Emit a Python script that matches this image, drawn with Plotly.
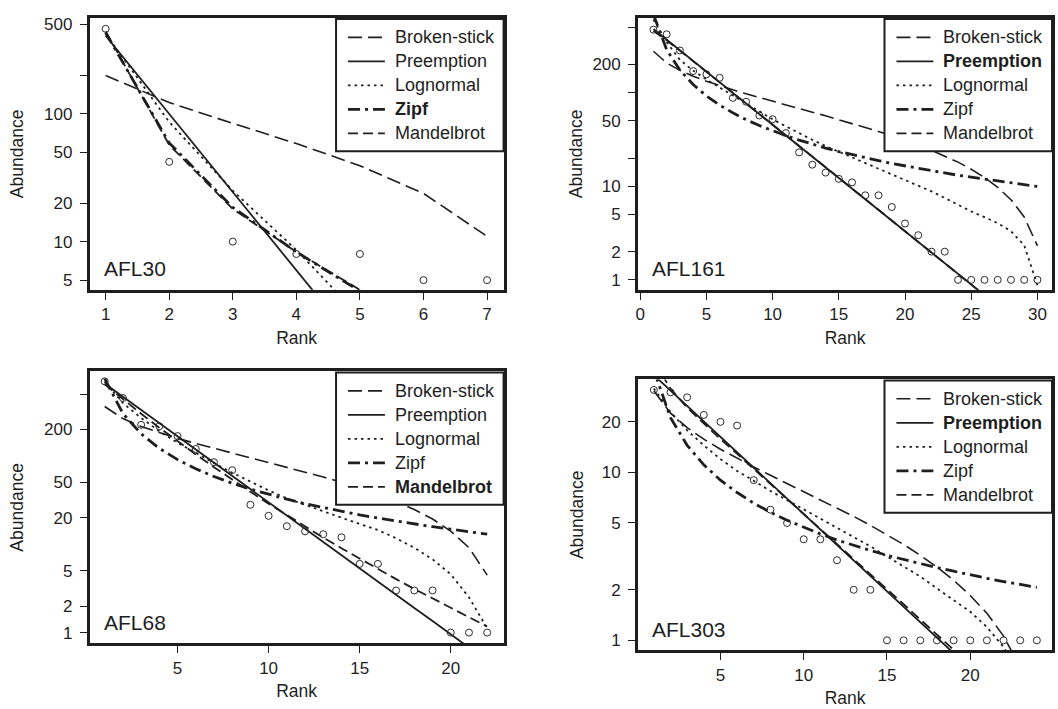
import plotly.graph_objects as go

# ---------------- data ----------------
models = ["Broken-stick", "Preemption", "Lognormal", "Zipf", "Mandelbrot"]

p1_rank = [1, 2, 3, 4, 5, 6, 7]
p1_obs = [460, 42, 10, 8, 8, 5, 5]
p1_broken = [199, 122, 84, 58.4, 39.2, 23.8, 11.0]
p1_preempt = [406, 99.5, 24.4, 5.97, 1.46, 0.36, 0.088]
p1_lognormal = [420, 86, 25, 8.6, 2.6, 0.8, 0.2]
p1_zipf = [430, 59, 18.5, 8.3, 4.1, 2.7, 1.75]
p1_mandel = [440, 57, 18, 8.3, 4.2, 2.8, 1.8]

p2_rank = list(range(1, 31))
p2_obs = [471, 420, 282, 170, 157, 144, 88, 80, 57, 52, 37, 23, 17, 14, 12,
          11, 8, 8, 6, 4, 3, 2, 2, 1, 1, 1, 1, 1, 1, 1]
p2_broken = [276.9, 207.6, 172.9, 149.8, 132.5, 118.6, 107.1, 97.2, 88.5, 80.8,
             73.9, 67.6, 61.8, 56.5, 51.5, 46.9, 42.6, 38.5, 34.6, 31.0,
             27.5, 24.2, 21.1, 18.1, 15.2, 12.4, 9.74, 7.18, 4.70, 2.31]
p2_preempt = [478.6, 368.4, 283.5, 218.2, 168.0, 129.3, 99.5, 76.6, 58.9, 45.4,
              34.9, 26.9, 20.7, 15.9, 12.25, 9.43, 7.26, 5.59, 4.30, 3.31,
              2.55, 1.96, 1.51, 1.16, 0.894, 0.688, 0.529, 0.407, 0.314, 0.241]
p2_lognormal = [602.6, 346.7, 223.9, 171.8, 138.0, 113.5, 92.3, 75.9, 62.4, 51.9,
                43.7, 36.7, 31.3, 26.9, 23.4, 20.4, 17.8, 15.5, 13.5, 11.7,
                10.2, 8.81, 7.50, 6.31, 5.37, 4.68, 4.03, 3.31, 2.34, 0.87]
p2_zipf = [682, 288, 174, 122, 92.3, 73.6, 60.8, 51.4, 44.5, 39.0,
           34.7, 31.1, 28.1, 25.6, 23.5, 21.7, 20.2, 18.8, 17.5, 16.5,
           15.5, 14.6, 13.8, 13.1, 12.5, 11.9, 11.4, 10.8, 10.4, 9.95]
p2_mandel = [455, 362, 281, 217, 167, 129, 99, 76.5, 59, 45.5,
             35, 27, 20.8, 16, 12.3, 9.5, 7.3, 5.6, 4.3, 3.3,
             2.55, 1.95, 1.5, 1.15, 0.89, 0.68, 0.52, 0.40, 0.31, 0.24]

p3_rank = list(range(1, 23))
p3_obs = [700, 453, 225, 217, 168, 120, 85, 69, 28, 21, 16, 14, 13, 12, 6, 6,
          3, 3, 3, 1, 1, 1]
p3_broken = [363.2, 264.8, 215.6, 182.8, 158.2, 138.5, 122.1, 108.0, 95.7, 84.8,
             75.0, 66.0, 57.8, 50.3, 43.2, 36.7, 30.5, 24.7, 19.3, 14.1, 9.16, 4.47]
p3_preempt = [661, 468, 332, 235, 167, 118, 83.8, 59.4, 42.1, 29.8,
              21.1, 15.0, 10.6, 7.52, 5.33, 3.78, 2.68, 1.90, 1.35, 0.954, 0.676, 0.479]
p3_lognormal = [691.8, 398.1, 269.2, 190.5, 141.3, 107.2, 83.2, 64.6, 51.3, 40.7,
                33.1, 27.9, 23.4, 20.0, 17.0, 14.5, 11.7, 9.12, 6.76, 4.57, 2.51, 1.12]
p3_zipf = [750, 302, 178, 122, 91, 71.6, 58.5, 49.1, 42.1, 36.6,
           32.4, 28.8, 26.0, 23.6, 21.5, 19.8, 18.3, 17.0, 15.8, 14.8, 13.9, 13.0]
p3_mandel = [647, 439, 301, 209, 147, 104, 74.7, 53.9, 39.3, 28.8,
             21.3, 15.9, 11.9, 9.02, 6.85, 5.24, 4.03, 3.12, 2.43, 1.90, 1.49, 1.17]

p4_rank = list(range(1, 25))
p4_obs = [31, 30, 28, 22, 20, 19, 9, 6, 5, 4, 4, 3, 2, 2, 1, 1, 1, 1, 1, 1, 1, 1, 1, 1]
p4_broken = [30.68, 22.55, 18.49, 15.78, 13.75, 12.13, 10.77, 9.61, 8.60, 7.69,
             6.88, 6.14, 5.47, 4.84, 4.26, 3.72, 3.21, 2.73, 2.28, 1.85,
             1.45, 1.06, 0.692, 0.339]
p4_preempt = [38.0, 30.8, 24.9, 20.1, 16.3, 13.2, 10.7, 8.63, 6.98, 5.65,
              4.57, 3.70, 2.99, 2.42, 1.96, 1.58, 1.28, 1.04, 0.839, 0.679,
              0.550, 0.445, 0.360, 0.291]
p4_lognormal = [31.6, 22.9, 17.8, 14.5, 12.0, 10.2, 8.91, 7.76, 6.84, 6.03,
                5.31, 4.68, 4.12, 3.63, 3.16, 2.75, 2.40, 2.04, 1.74, 1.48,
                1.20, 0.912, 0.631, 0.355]
p4_zipf = [40.6, 21.2, 14.5, 11.1, 8.99, 7.59, 6.56, 5.79, 5.19, 4.70,
           4.30, 3.96, 3.67, 3.43, 3.21, 3.03, 2.86, 2.71, 2.58, 2.45,
           2.34, 2.24, 2.15, 2.07]
p4_mandel = [45.7, 31.6, 24.3, 19.5, 15.8, 12.9, 10.5, 8.51, 7.00, 5.69,
             4.62, 3.76, 3.05, 2.48, 2.02, 1.64, 1.33, 1.08, 0.881, 0.716,
             0.582, 0.473, 0.385, 0.313]

site_names = ["AFL30", "AFL161", "AFL68", "AFL303"]
best_model = ["Zipf", "Preemption", "Mandelbrot", "Preemption"]

p1_yticks = [5, 10, 20, 50, 100, 200, 500]
p1_ytext = ["5", "10", "20", "50", "100", "", "500"]
p2_yticks = [1, 2, 5, 10, 20, 50, 100, 200, 500]
p2_ytext = ["1", "2", "5", "10", "", "50", "", "200", ""]
p3_yticks = [1, 2, 5, 20, 50, 200, 500]
p3_ytext = ["1", "2", "5", "20", "50", "200", ""]
p4_yticks = [1, 2, 5, 10, 20]
p4_ytext = ["1", "2", "5", "10", "20"]

p1_xticks = [1, 2, 3, 4, 5, 6, 7]
p2_xticks = [0, 5, 10, 15, 20, 25, 30]
p3_xticks = [5, 10, 15, 20]
p4_xticks = [5, 10, 15, 20]

# ---------------- layout / style ----------------
W, H = 1058, 709
FONT = "Liberation Sans, Arial, Helvetica, sans-serif"
INK = "#1e1e1e"

# pixel boxes (left, right, top, bottom)
boxes = [(87, 502, 15, 288), (637, 1052, 15, 288),
         (87, 502, 370, 643), (637, 1052, 378, 650)]
xranges = [[0.75, 7.26], [-0.15, 31.1], [0.18, 22.9], [0.06, 24.91]]
yranges = [[0.6235, 2.748], [-0.106, 2.798], [-0.121, 2.957], [-0.059, 1.554]]
ytitle_standoff = [16, 6, 16, 14]

panels = [
    (p1_rank, p1_obs, [p1_broken, p1_preempt, p1_lognormal, p1_zipf, p1_mandel],
     p1_xticks, p1_yticks, p1_ytext),
    (p2_rank, p2_obs, [p2_broken, p2_preempt, p2_lognormal, p2_zipf, p2_mandel],
     p2_xticks, p2_yticks, p2_ytext),
    (p3_rank, p3_obs, [p3_broken, p3_preempt, p3_lognormal, p3_zipf, p3_mandel],
     p3_xticks, p3_yticks, p3_ytext),
    (p4_rank, p4_obs, [p4_broken, p4_preempt, p4_lognormal, p4_zipf, p4_mandel],
     p4_xticks, p4_yticks, p4_ytext),
]

line_styles = [
    dict(width=1.6, dash="14px,6px"),          # Broken-stick (long dash)
    dict(width=1.8, dash="solid"),             # Preemption
    dict(width=1.8, dash="2.5px,4px"),         # Lognormal (dotted)
    dict(width=2.8, dash="12px,5px,3px,5px"),  # Zipf (dot-dash)
    dict(width=1.8, dash="10px,5px"),          # Mandelbrot (dashed)
]

fig = go.Figure()
layout = dict(width=W, height=H, margin=dict(l=0, r=0, t=0, b=0),
              paper_bgcolor="white", plot_bgcolor="white",
              font=dict(family=FONT, color=INK, size=17),
              showlegend=False, annotations=[], shapes=[])


def px_x(v):
    return v / W


def px_y(v):
    return 1 - v / H


for i, (rank, obs, fits, xt, yt, ytxt) in enumerate(panels):
    n = i + 1
    xa = "x" if n == 1 else f"x{n}"
    ya = "y" if n == 1 else f"y{n}"
    l, r, t, b = boxes[i]

    for k, (mname, vals) in enumerate(zip(models, fits)):
        fig.add_trace(go.Scatter(
            x=rank, y=vals, mode="lines", name=mname,
            line=dict(color=INK, **line_styles[k]),
            xaxis=xa, yaxis=ya, hoverinfo="skip"))
    fig.add_trace(go.Scatter(
        x=rank, y=obs, mode="markers", name="Observed",
        marker=dict(symbol="circle-open", size=7, color="#2a2a2a",
                    line=dict(width=1, color="#2a2a2a")),
        xaxis=xa, yaxis=ya))

    axis_common = dict(showline=True, mirror=True, linecolor=INK, linewidth=3,
                       ticks="outside", ticklen=7, tickwidth=1, tickcolor=INK,
                       showgrid=False, zeroline=False,
                       tickfont=dict(size=17, family=FONT, color=INK))
    layout["xaxis" if n == 1 else f"xaxis{n}"] = dict(
        domain=[px_x(l), px_x(r)], range=xranges[i], anchor=ya,
        tickvals=xt, ticktext=[str(v) for v in xt],
        title=dict(text="Rank", font=dict(size=17.5), standoff=9),
        **axis_common)
    layout["yaxis" if n == 1 else f"yaxis{n}"] = dict(
        domain=[px_y(b), px_y(t)], range=yranges[i], type="log", anchor=xa,
        tickvals=yt, ticktext=ytxt, ticklabelstandoff=4,
        title=dict(text="Abundance", font=dict(size=17.5),
                   standoff=ytitle_standoff[i]),
        **axis_common)

    # legend box (top-right inside the panel)
    lg_l, lg_t, lg_b = r - 168, t + 1, t + 134
    layout["shapes"].append(dict(
        type="rect", xref="paper", yref="paper",
        x0=px_x(lg_l), x1=px_x(r), y0=px_y(lg_b), y1=px_y(lg_t),
        fillcolor="white", line=dict(color=INK, width=2), layer="above"))
    for k, mname in enumerate(models):
        yc = t + 19.5 + 24.1 * k
        layout["shapes"].append(dict(
            type="line", xref="paper", yref="paper",
            x0=px_x(lg_l + 12), x1=px_x(lg_l + 49), y0=px_y(yc), y1=px_y(yc),
            line=dict(color=INK, **line_styles[k]), layer="above"))
        label = f"<b>{mname}</b>" if mname == best_model[i] else mname
        layout["annotations"].append(dict(
            text=label, xref="paper", yref="paper",
            x=px_x(lg_l + 57), y=px_y(yc), xanchor="left", yanchor="middle",
            showarrow=False, font=dict(size=18, family=FONT, color=INK)))

    layout["annotations"].append(dict(
        text=site_names[i], xref="paper", yref="paper",
        x=px_x(l + 12), y=px_y(b - 21), xanchor="left", yanchor="middle",
        showarrow=False, font=dict(size=21, family=FONT, color=INK)))

fig.update_layout(**layout)
fig.write_html("out.html",
               config={"displayModeBar": False},
               post_script="document.body.style.margin='0px';"
                           "document.body.style.overflow='hidden';")
